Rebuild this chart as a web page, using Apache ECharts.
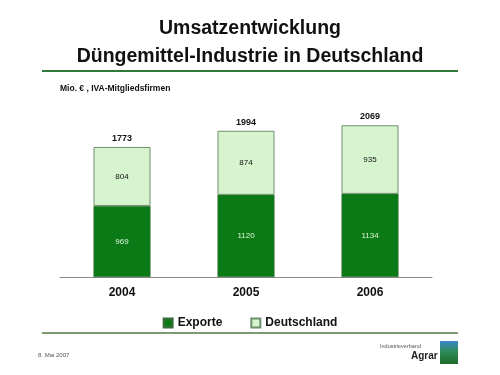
<!DOCTYPE html>
<html><head><meta charset="utf-8">
<script src="https://cdn.jsdelivr.net/npm/echarts@6/dist/echarts.min.js"></script>
<style>html,body{margin:0;padding:0;background:#fff}#c{width:500px;height:375px}</style>
</head><body><div id="c"></div>
<script>
const years = ['2004', '2005', '2006'];
const exporte = [969, 1120, 1134];
const deutschland = [804, 874, 935];
const totals = [1773, 1994, 2069];

const FONT = 'Liberation Sans, Arial, sans-serif';
const chart = echarts.init(document.getElementById('c'), null, {renderer: 'canvas'});
chart.setOption({
  backgroundColor: '#ffffff',
  animation: false,
  title: {
    text: 'Umsatzentwicklung\nDüngemittel-Industrie in Deutschland',
    left: 'center', top: 10,
    textStyle: {fontFamily: FONT, fontSize: 19.5, fontWeight: 'bold', color: '#111', lineHeight: 28}
  },
  legend: {
    data: ['Exporte', 'Deutschland'],
    bottom: 41, left: 'center',
    itemWidth: 9, itemHeight: 9, itemGap: 28,
    icon: 'rect',
    textStyle: {fontFamily: FONT, fontSize: 12, fontWeight: 'bold', color: '#111'}
  },
  grid: {left: 60, right: 68, top: 101, bottom: 98},
  xAxis: {
    type: 'category', data: years,
    axisLine: {lineStyle: {color: '#8a8a8a', width: 1}},
    axisTick: {show: false},
    axisLabel: {fontFamily: FONT, fontSize: 12, fontWeight: 'bold', color: '#111', margin: 10}
  },
  yAxis: {type: 'value', min: 0, max: 2400, show: false, splitLine: {show: false}},
  series: [
    {
      name: 'Exporte', type: 'bar', stack: 's', data: exporte, barWidth: 57,
      itemStyle: {color: '#0b7a16', borderColor: '#3d6b3d', borderWidth: 0.5},
      label: {show: true, position: 'inside', fontFamily: FONT, fontSize: 8, color: '#dff5d8'}
    },
    {
      name: 'Deutschland', type: 'bar', stack: 's', data: deutschland, barWidth: 57,
      itemStyle: {color: '#d6f5cf', borderColor: '#6f8f6f', borderWidth: 1},
      label: {show: true, position: 'inside', fontFamily: FONT, fontSize: 8, color: '#111'}
    },
    {
      name: 'Gesamt', type: 'line', data: totals,
      symbol: 'circle', symbolSize: 2, showSymbol: true,
      itemStyle: {color: 'rgba(0,0,0,0)', borderWidth: 0}, lineStyle: {width: 0, color: 'rgba(0,0,0,0)'}, silent: true,
      label: {show: true, position: 'top', distance: 3, fontFamily: FONT, fontSize: 9, fontWeight: 'bold', color: '#111'}
    }
  ],
  graphic: [
    {type: 'rect', shape: {x: 42, y: 70, width: 416, height: 2}, style: {fill: '#2f7a3a'}},
    {type: 'text', left: 60, top: 84, style: {text: 'Mio. € , IVA-Mitgliedsfirmen', font: 'bold 8.5px ' + FONT, fill: '#111'}},
    {type: 'rect', shape: {x: 42, y: 332, width: 416, height: 2}, style: {fill: '#7d9a72'}},
    {type: 'text', left: 38, top: 352, style: {text: '8. Mai 2007', font: '6px ' + FONT, fill: '#555'}},
    {type: 'text', left: 380, top: 343, style: {text: 'Industrieverband', font: '5.5px ' + FONT, fill: '#555'}},
    {type: 'text', left: 411, top: 351, style: {text: 'Agrar', font: 'bold 10px ' + FONT, fill: '#222'}},
    {type: 'rect', shape: {x: 440, y: 341, width: 18, height: 23},
      style: {fill: new echarts.graphic.LinearGradient(0, 0, 0, 1, [
        {offset: 0, color: '#3a86c8'}, {offset: 0.45, color: '#2e8c5a'}, {offset: 1, color: '#1e6a2a'}])}}
  ]
});
</script></body></html>
